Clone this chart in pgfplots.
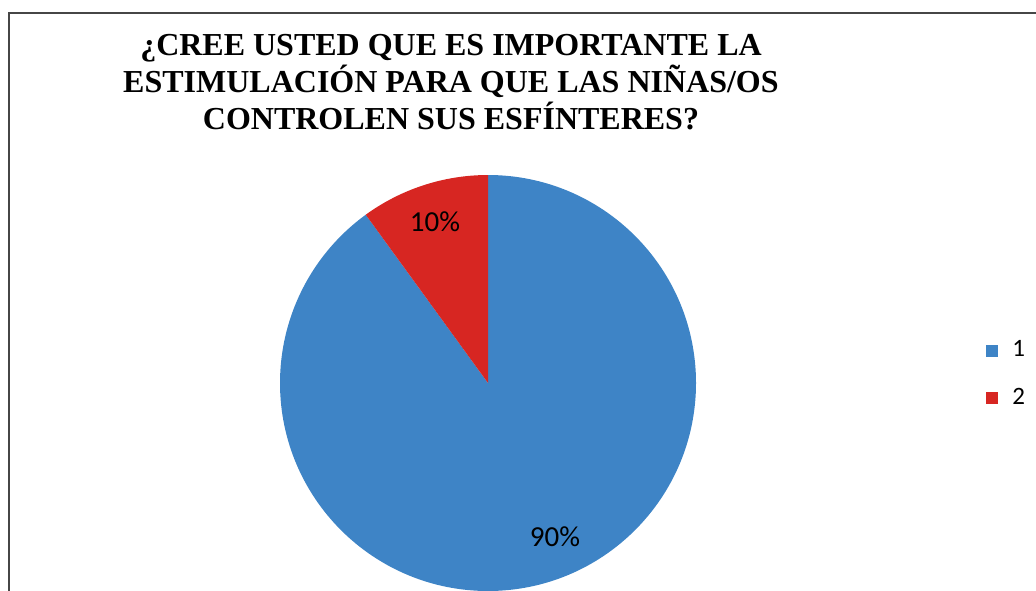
\documentclass[border=0pt]{standalone}
\usepackage{pgfplots}
\usepackage{pgfplotstable}
\pgfplotsset{compat=1.18}
\usepackage{fontspec}
\setmainfont{Liberation Serif}
\newfontfamily\titlefont{Liberation Serif}[BoldFont={Liberation Serif Bold}]
\newfontfamily\calibri{Carlito}
\definecolor{pieblue}{RGB}{62,132,198}
\definecolor{piered}{RGB}{215,38,34}
\definecolor{framegray}{RGB}{70,70,70}

\pgfplotstableread{
cat value
1 90
2 10
}\piedata

\begin{document}
\begin{tikzpicture}
\pgfplotstablegetelem{1}{value}\of\piedata
\pgfmathsetmacro\angred{90+3.6*\pgfplotsretval}
\pgfmathsetmacro\angblue{\angred-360}
\begin{axis}[
  width=518pt, height=295pt, scale only axis,
  xmin=0, xmax=1036, ymin=0, ymax=590,
  hide axis, clip=true,
  legend style={draw=none, fill=none, at={(0.946,0.366)}, anchor=west,
    font=\calibri\fontsize{12.5}{14}\selectfont, row sep=10pt,
    /tikz/every odd column/.append style={column sep=5pt}},
  legend cell align=left,
]
% frame of the chart area
\draw[framegray, line width=1.3pt] (axis cs:9,-20) -- (axis cs:9,577) -- (axis cs:1100,577);
% slices, angles from the table
\fill[pieblue] (axis cs:488,207) -- (axis cs:488,415) arc[start angle=90, end angle=\angblue, radius=104pt] -- cycle;
\fill[piered] (axis cs:488,207) -- (axis cs:488,415) arc[start angle=90, end angle=\angred, radius=104pt] -- cycle;
\node[font=\calibri\fontsize{14.5}{16}\selectfont] at (axis cs:435,368) {10\%};
\node[font=\calibri\fontsize{14.5}{16}\selectfont] at (axis cs:555,53) {90\%};
% title
\node[align=center, font=\titlefont\bfseries\fontsize{16}{18.5}\selectfont] at (axis cs:451,508)
  {¿CREE USTED QUE ES IMPORTANTE LA\\ESTIMULACIÓN PARA QUE LAS NIÑAS/OS\\CONTROLEN SUS ESFÍNTERES?};
\addlegendimage{legend image code/.code={\fill[pieblue] (0pt,-2.75pt) rectangle (5.5pt,2.75pt);}}
\addlegendentry{1}
\addlegendimage{legend image code/.code={\fill[piered] (0pt,-2.75pt) rectangle (5.5pt,2.75pt);}}
\addlegendentry{2}
\end{axis}
\pgfresetboundingbox
\path (current axis.south west) rectangle (current axis.north east);
\end{tikzpicture}
\end{document}
